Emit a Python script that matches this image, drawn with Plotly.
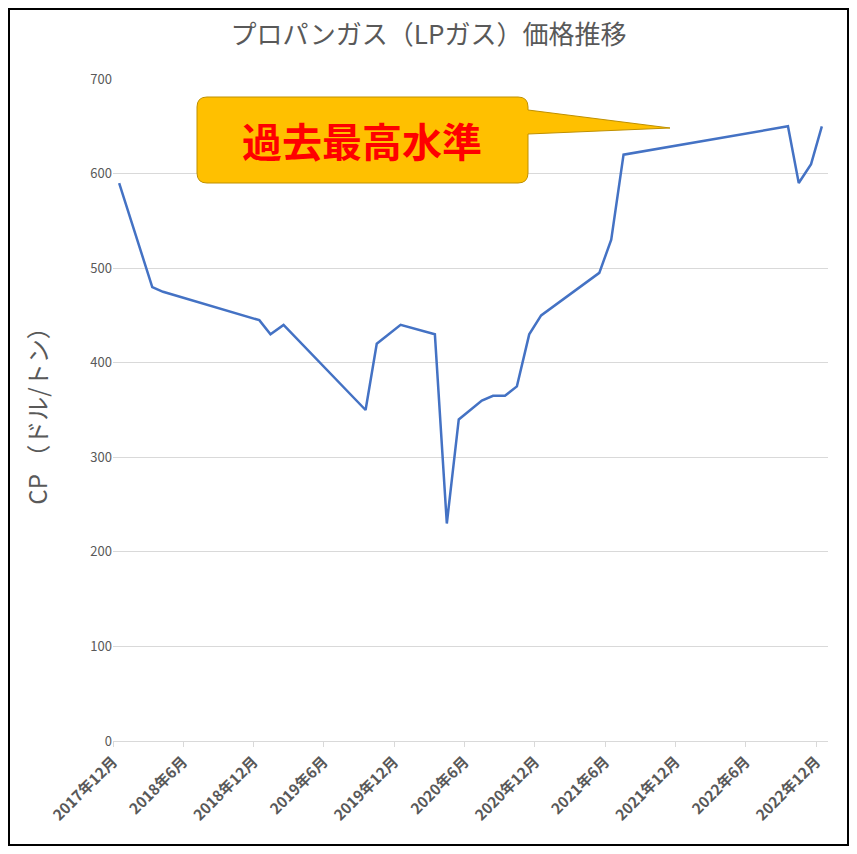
import plotly.graph_objects as go

dates = ["2017-12-17","2018-03-13","2018-04-10","2018-12-16","2019-01-14","2019-02-17",
         "2019-09-18","2019-10-17","2019-12-18","2020-03-16","2020-04-16","2020-05-17",
         "2020-07-16","2020-08-14","2020-09-14","2020-10-15","2020-11-16","2020-12-17",
         "2021-05-17","2021-06-17","2021-07-19","2022-09-19","2022-10-17","2022-11-18","2022-12-16"]
cp = [590,480,475,445,430,440,350,420,440,430,230,340,360,365,365,375,430,450,495,530,620,650,590,610,650]
tickvals = ["2017-12-01","2018-06-01","2018-12-01","2019-06-01","2019-12-01","2020-06-01",
            "2020-12-01","2021-06-01","2021-12-01","2022-06-01","2022-12-01"]
ticktext = ["2017年12月","2018年6月","2018年12月","2019年6月","2019年12月","2020年6月",
            "2020年12月","2021年6月","2021年12月","2022年6月","2022年12月"]

F = "Noto Sans CJK JP"
fig = go.Figure(go.Scatter(x=dates, y=cp, mode="lines", line=dict(color="#4472C4", width=2.5)))

OFF = 8
FW, FH = 857 - 2*OFF, 854 - 2*OFF
L, T, W, H = 113 - OFF, 79 - OFF, 715, 662
def px(x): return (x - OFF - L) / W
def py(y): return (T + H - (y - OFF)) / H

x0, x1, y0, y1, r = 197, 528, 97, 183, 10
path = (f"M {px(x0+r)},{py(y0)} L {px(x1-r)},{py(y0)} Q {px(x1)},{py(y0)} {px(x1)},{py(y0+r)} "
        f"L {px(x1)},{py(110)} L {px(670)},{py(128)} L {px(x1)},{py(134)} "
        f"L {px(x1)},{py(y1-r)} Q {px(x1)},{py(y1)} {px(x1-r)},{py(y1)} "
        f"L {px(x0+r)},{py(y1)} Q {px(x0)},{py(y1)} {px(x0)},{py(y1-r)} "
        f"L {px(x0)},{py(y0+r)} Q {px(x0)},{py(y0)} {px(x0+r)},{py(y0)} Z")

fig.update_layout(
    width=FW, height=FH, margin=dict(l=L, r=FW-L-W, t=T, b=FH-T-H),
    paper_bgcolor="white", plot_bgcolor="white", showlegend=False,
    font=dict(family=F, color="#595959"),
    title=dict(text="プロパンガス（LPガス）価格推移", x=0.5, xanchor="center",
               y=1 - (35 - OFF) / FH, yanchor="middle",
               font=dict(size=26, color="#595959", family=F)),
    xaxis=dict(range=["2017-12-01","2023-01-01"], tickvals=tickvals,
               ticktext=[f"<b>{t}</b>" for t in ticktext],
               tickangle=-45, tickfont=dict(size=15, color="#595959", family=F),
               showgrid=False, showline=True, linecolor="#D9D9D9", ticks="outside",
               tickcolor="#D9D9D9", ticklen=5),
    yaxis=dict(range=[0,700], dtick=100, gridcolor="#D9D9D9", zeroline=False,
               tickfont=dict(size=13, color="#595959"),
               title=dict(text="CP （ドル/トン）", font=dict(size=24, color="#595959"), standoff=35)),
    shapes=[
        dict(type="rect", xref="paper", yref="paper", x0=px(OFF+1), x1=px(857-OFF-1),
             y0=py(854-OFF-1), y1=py(OFF+1), line=dict(color="black", width=2)),
        dict(type="path", xref="paper", yref="paper", path=path,
             fillcolor="#FFC000", line=dict(color="#BF9000", width=1)),
    ],
    annotations=[dict(xref="paper", yref="paper", x=px(362), y=py(140), xanchor="center",
                      yanchor="middle", text="<b>過去最高水準</b>",
                      showarrow=False, font=dict(size=40, color="#FF0000", family=F))],
)
fig.write_html("out.html")
